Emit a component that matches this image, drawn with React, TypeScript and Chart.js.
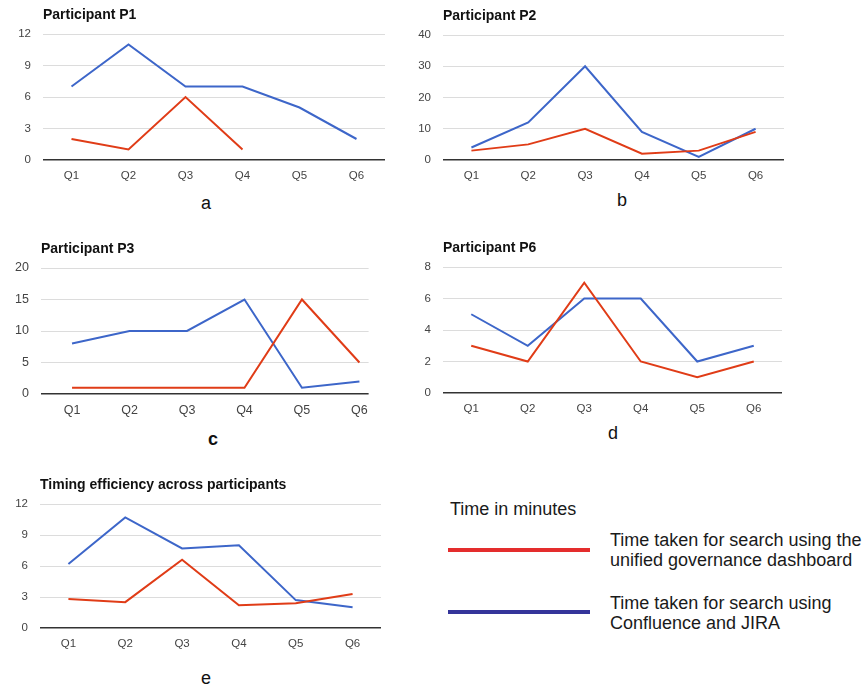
import React, { useEffect, useRef } from 'react';
import { Chart, registerables } from 'chart.js';

Chart.register(...registerables);

const categories = ['Q1', 'Q2', 'Q3', 'Q4', 'Q5', 'Q6'];

const p1Dashboard = [2, 1, 6, 1, null, null];
const p1Jira = [7, 11, 7, 7, 5, 2];
const p2Dashboard = [3, 5, 10, 2, 3, 9];
const p2Jira = [4, 12, 30, 9, 1, 10];
const p3Dashboard = [1, 1, 1, 1, 15, 5];
const p3Jira = [8, 10, 10, 15, 1, 2];
const p6Dashboard = [3, 2, 7, 2, 1, 2];
const p6Jira = [5, 3, 6, 6, 2, 3];
const avgDashboard = [2.8, 2.5, 6.6, 2.2, 2.4, 3.3];
const avgJira = [6.2, 10.7, 7.7, 8.0, 2.7, 2.0];

const panelTitles = [
  'Participant P1',
  'Participant P2',
  'Participant P3',
  'Participant P6',
  'Timing efficiency across participants',
];
const panelLetters = ['a', 'b', 'c', 'd', 'e'];
const yMaxes = [12, 40, 20, 8, 12];
const ySteps = [3, 10, 5, 2, 3];

const legendTitle = 'Time in minutes';
const dashboardLabel = ['Time taken for search using the', 'unified governance dashboard'];
const jiraLabel = ['Time taken for search using', 'Confluence and JIRA'];

const panelSeries = [
  [p1Dashboard, p1Jira],
  [p2Dashboard, p2Jira],
  [p3Dashboard, p3Jira],
  [p6Dashboard, p6Jira],
  [avgDashboard, avgJira],
];

// layout (page pixels) for each panel's plot area
const layouts = [
  { L: 43, T: 34, R: 385, B: 160, xmin: 0.5, xmax: 6.5, lx: 206, ly: 203, tick: 11.5, lbold: false },
  { L: 443, T: 35, R: 784, B: 160, xmin: 0.5, xmax: 6.5, lx: 622, ly: 200, tick: 11.5, lbold: false },
  { L: 41, T: 268, R: 369, B: 394, xmin: 0.46, xmax: 6.16, lx: 213, ly: 439, tick: 12.5, lbold: true },
  { L: 443, T: 267, R: 782, B: 393, xmin: 0.5, xmax: 6.5, lx: 613, ly: 433, tick: 11.5, lbold: false },
  { L: 40, T: 504, R: 381, B: 628, xmin: 0.5, xmax: 6.5, lx: 206, ly: 678, tick: 11.5, lbold: false },
];

const RED = '#e03c17';
const BLUE = '#3d66c9';
const FONT = '"Liberation Sans", Arial, sans-serif';

const AXW = 43;
const TOPH = 34;
const PADR = 8;
const XH = 30;

function Panel({ idx }: { idx: number }) {
  const ref = useRef<HTMLCanvasElement | null>(null);
  const lay = layouts[idx];
  const width = lay.R - lay.L + AXW + PADR;
  const height = lay.B - lay.T + TOPH + XH;

  useEffect(() => {
    if (!ref.current) return;
    const [dash, jira] = panelSeries[idx];
    const chart = new Chart(ref.current, {
      type: 'line',
      data: {
        datasets: [
          {
            label: dashboardLabel.join(' '),
            data: dash.map((y, i) => ({ x: i + 1, y })),
            borderColor: RED,
            backgroundColor: RED,
            borderWidth: 2,
            pointRadius: 0,
            tension: 0,
            spanGaps: false,
          },
          {
            label: jiraLabel.join(' '),
            data: jira.map((y, i) => ({ x: i + 1, y })),
            borderColor: BLUE,
            backgroundColor: BLUE,
            borderWidth: 2,
            pointRadius: 0,
            tension: 0,
          },
        ],
      },
      options: {
        responsive: false,
        animation: false,
        devicePixelRatio: 1,
        layout: { padding: { left: 0, right: PADR, top: 0, bottom: 0 } },
        plugins: {
          legend: { display: false },
          tooltip: { enabled: false },
          title: {
            display: true,
            text: panelTitles[idx],
            align: 'start',
            fullSize: false,
            color: '#111',
            font: { family: FONT, size: 14, weight: 'bold', lineHeight: 1.2 },
            padding: { top: 6.6, bottom: 10.6 },
          },
        },
        scales: {
          x: {
            type: 'linear',
            min: lay.xmin,
            max: lay.xmax,
            afterBuildTicks: (s: any) => {
              s.ticks = categories.map((_, i) => ({ value: i + 1 }));
            },
            afterFit: (s: any) => {
              s.height = XH;
            },
            grid: { display: false, drawTicks: false },
            border: { display: false },
            ticks: {
              autoSkip: false,
              maxRotation: 0,
              padding: 9,
              color: '#444',
              font: { family: FONT, size: lay.tick },
              callback: (v: any) => categories[Math.round(Number(v)) - 1] ?? '',
            },
          },
          y: {
            min: 0,
            max: yMaxes[idx],
            afterFit: (s: any) => {
              s.width = AXW;
            },
            ticks: {
              stepSize: ySteps[idx],
              padding: 12,
              color: '#444',
              font: { family: FONT, size: lay.tick },
            },
            grid: {
              drawTicks: false,
              color: (c: any) => (c.tick && c.tick.value === 0 ? '#333' : '#dcdcdc'),
              lineWidth: (c: any) => (c.tick && c.tick.value === 0 ? 1.5 : 1),
            },
            border: { display: false },
          },
        },
      },
    });
    return () => chart.destroy();
  }, [idx]);

  return (
    <>
      <canvas
        ref={ref}
        width={width}
        height={height}
        style={{
          position: 'absolute',
          left: lay.L - AXW,
          top: lay.T - TOPH,
          width,
          height,
        }}
      />
      <div
        style={{
          position: 'absolute',
          left: lay.lx,
          top: lay.ly,
          transform: 'translate(-50%, -50%)',
          fontFamily: FONT,
          fontSize: 18,
          fontWeight: lay.lbold ? 'bold' : 'normal',
          color: '#111',
          lineHeight: 1,
        }}
      >
        {panelLetters[idx]}
      </div>
    </>
  );
}

export default function App() {
  const textStyle: React.CSSProperties = {
    position: 'absolute',
    fontFamily: FONT,
    fontSize: 18,
    color: '#1a1a1a',
    lineHeight: '20px',
    whiteSpace: 'nowrap',
  };
  return (
    <div
      style={{
        position: 'absolute',
        left: 0,
        top: 0,
        width: 868,
        height: 694,
        background: '#fff',
        overflow: 'hidden',
      }}
    >
      {layouts.map((_, i) => (
        <Panel key={i} idx={i} />
      ))}
      <div style={{ ...textStyle, left: 450, top: 499 }}>{legendTitle}</div>
      <div style={{ position: 'absolute', left: 448, top: 548, width: 142, height: 4, background: '#e42d2d' }} />
      <div style={{ position: 'absolute', left: 448, top: 610, width: 142, height: 4, background: '#35359a' }} />
      <div style={{ ...textStyle, left: 610, top: 530 }}>
        {dashboardLabel[0]}
        <br />
        {dashboardLabel[1]}
      </div>
      <div style={{ ...textStyle, left: 610, top: 593 }}>
        {jiraLabel[0]}
        <br />
        {jiraLabel[1]}
      </div>
    </div>
  );
}
